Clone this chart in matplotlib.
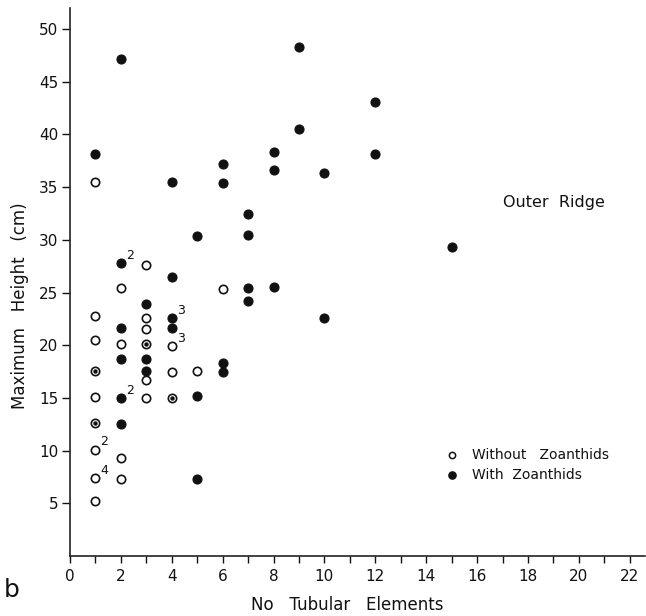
import matplotlib
matplotlib.use("Agg")
import matplotlib.pyplot as plt

# Data
open_x = [1, 1, 1, 1, 1, 1, 1, 2, 2, 2, 2, 3, 3, 3, 3, 3, 4, 4, 5, 6]
open_y = [35.5, 22.8, 20.5, 15.1, 10.1, 7.4, 5.2, 25.4, 20.1, 9.3, 7.3,
          27.6, 22.6, 21.5, 16.7, 15.0, 19.9, 17.5, 17.6, 25.3]

dot_x = [1, 1, 3, 4]
dot_y = [17.6, 12.6, 20.1, 15.0]

filled_x = [1, 2, 2, 2, 2, 2, 2, 3, 3, 3, 4, 4, 4, 4, 5, 5, 5, 6, 6, 6, 6,
            7, 7, 7, 7, 8, 8, 8, 9, 9, 10, 10, 12, 12, 15]
filled_y = [38.1, 47.2, 27.8, 21.6, 18.7, 15.0, 12.5, 23.9, 18.7, 17.6,
            35.5, 26.5, 22.6, 21.6, 30.4, 15.2, 7.3, 37.2, 35.4, 18.3, 17.5,
            32.5, 30.5, 25.4, 24.2, 38.3, 36.6, 25.5, 48.3, 40.5, 36.3, 22.6,
            43.1, 38.1, 29.3]

count_x = [2, 2, 4, 4, 1, 1]
count_y = [27.8, 15.0, 22.6, 19.9, 10.1, 7.4]
count_lbl = ["2", "2", "3", "3", "2", "4"]

xticks_major = list(range(0, 23, 2))
xticks_minor = list(range(0, 23))
yticks = list(range(5, 51, 5))

fig = plt.figure(figsize=(6.46, 6.16), dpi=100)
ax = fig.add_axes([0.1084, 0.0974, 0.89, 0.8896])
ax.set_xlim(0, 22.6)
ax.set_ylim(0, 52)

ms = 6.5
ax.plot(filled_x, filled_y, 'o', ms=ms, mfc='#111111', mec='#111111', mew=0.8, ls='none')
ax.plot(open_x, open_y, 'o', ms=ms - 0.5, mfc='white', mec='#111111', mew=1.2, ls='none')
ax.plot(dot_x, dot_y, 'o', ms=ms - 0.5, mfc='white', mec='#111111', mew=1.2, ls='none')
ax.plot(dot_x, dot_y, 'o', ms=2.2, mfc='#111111', mec='#111111', ls='none')

for x, y, t in zip(count_x, count_y, count_lbl):
    ax.annotate(t, (x, y), xytext=(3.5, 3), textcoords='offset points',
                fontsize=9, color='#111111')

for s in ['top', 'right']:
    ax.spines[s].set_visible(False)
for s in ['left', 'bottom']:
    ax.spines[s].set_linewidth(1.2)
    ax.spines[s].set_color('#222222')

ax.set_yticks(yticks)
ax.set_xticks(xticks_major)
ax.set_xticks(xticks_minor, minor=True)
ax.tick_params(axis='y', direction='out', length=6, width=1.0, pad=2.5,
               labelsize=11, colors='#111111')
ax.tick_params(axis='x', which='both', direction='out', length=5, width=1.0,
               pad=4, labelsize=11, colors='#111111')

ax.text(17.0, 33.5, "Outer  Ridge", fontsize=11.5, va='center', ha='left', color='#111111')

# legend
ax.plot([15.0], [9.6], 'o', ms=4.5, mfc='white', mec='#111111', mew=1.1)
ax.plot([15.0], [7.7], 'o', ms=5.2, mfc='#111111', mec='#111111')
ax.text(15.8, 9.6, "Without   Zoanthids", fontsize=10, va='center', ha='left', color='#111111')
ax.text(15.8, 7.7, "With  Zoanthids", fontsize=10, va='center', ha='left', color='#111111')

fig.text(20 / 646, 1 - 306 / 616, "Maximum   Height   (cm)", rotation=90,
         ha='center', va='center', fontsize=12, color='#111111')
fig.text(347 / 646, 1 - 605 / 616, "No   Tubular   Elements", ha='center', va='center',
         fontsize=12, color='#111111')
fig.text(12 / 646, 1 - 590 / 616, "b", ha='center', va='center', fontsize=18, color='#111111')

fig.savefig("out.png", dpi=100)
